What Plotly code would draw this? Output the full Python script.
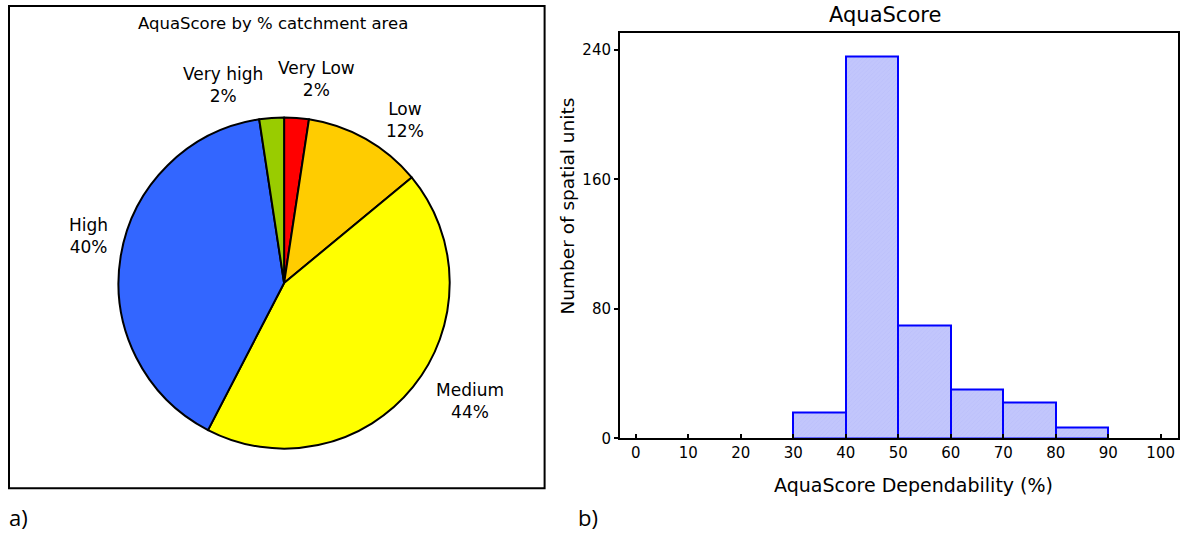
import math
import plotly.graph_objects as go

# ---------------- data ----------------
pie_labels = ["Very Low", "Low", "Medium", "High", "Very high"]
pie_values = [2.4, 11.6, 43.6, 40.0, 2.4]   # % catchment area
pie_colors = ["#FF0000", "#FFCC00", "#FFFF00", "#3366FF", "#99CC00"]

bin_left = [30, 40, 50, 60, 70, 80]
bin_width = 10
bin_counts = [16, 236, 70, 30, 22, 7]

x_tick_vals = [0, 10, 20, 30, 40, 50, 60, 70, 80, 90, 100]
y_tick_vals = [0, 80, 160, 240]

# ---------------- layout helpers ----------------
W, H = 1180, 541
FONT = "DejaVu Sans"


def px(x):
    return x / W


def py(y):
    return (H - y) / H


fig = go.Figure()

# ---- pie (panel a) ----
cx, cy, R = 284.1, 287.8, 168.4
fig.add_trace(go.Pie(
    labels=pie_labels, values=pie_values, sort=False, direction="clockwise",
    rotation=0, textinfo="none", hoverinfo="label+percent",
    marker=dict(colors=pie_colors, line=dict(color="black", width=2)),
    domain=dict(x=[px(cx - R), px(cx + R)], y=[py(cy + R), py(cy - R)]),
    showlegend=False,
))

# label placement: radial position at mid angle + per-label nudges (pixels)
label_nudge = [(17, 2), (17, 17), (22, -12), (12, -14), (-45, 9)]
total = sum(pie_values)
cum = 0.0
annotations = []
for lab, v, (dx, dy) in zip(pie_labels, pie_values, label_nudge):
    mid = (cum + v / 2) / total * 2 * math.pi
    cum += v
    r = 1.25 * R
    lx = cx + r * math.sin(mid) + dx
    ly = cy - r * math.cos(mid) + dy
    annotations.append(dict(
        x=px(lx), y=py(ly), xref="paper", yref="paper",
        text=f"{lab}<br>{v / total * 100:.0f}%", showarrow=False,
        font=dict(family=FONT, size=17, color="black"),
        xanchor="center", yanchor="middle", align="center",
    ))

annotations.append(dict(
    x=px(272.5), y=py(24), xref="paper", yref="paper",
    text="AquaScore by % catchment area", showarrow=False,
    font=dict(family=FONT, size=16.5, color="black"),
    xanchor="center", yanchor="middle"))

# ---- histogram (panel b) ----
bin_centers = [b + bin_width / 2 for b in bin_left]
fig.add_trace(go.Bar(
    x=bin_centers, y=bin_counts, width=bin_width,
    marker=dict(color="rgb(194,198,252)",
                line=dict(color="rgb(0,0,255)", width=2),
                pattern=dict(shape="/", size=3, solidity=0.15,
                             fgcolor="rgb(170,176,245)")),
    xaxis="x", yaxis="y", showlegend=False,
))

annotations += [
    dict(x=px(884.5), y=py(15), xref="paper", yref="paper", text="AquaScore",
         showarrow=False, font=dict(family=FONT, size=21, color="black"),
         xanchor="center", yanchor="middle"),
    dict(x=px(913), y=py(493), xref="paper", yref="paper",
         text="AquaScore Dependability (%)", showarrow=False,
         font=dict(family=FONT, size=19, color="black"),
         xanchor="center", yanchor="middle"),
    dict(x=px(568), y=py(210), xref="paper", yref="paper",
         text="Number of spatial units", textangle=-90, showarrow=False,
         font=dict(family=FONT, size=18.5, color="black"),
         xanchor="center", yanchor="middle"),
    dict(x=px(18.5), y=py(526), xref="paper", yref="paper", text="a)",
         showarrow=False, font=dict(family="Open Sans", size=22, color="black"),
         xanchor="center", yanchor="middle"),
    dict(x=px(588), y=py(526), xref="paper", yref="paper", text="b)",
         showarrow=False, font=dict(family="Open Sans", size=22, color="black"),
         xanchor="center", yanchor="middle"),
]

shapes = [dict(type="rect", xref="paper", yref="paper",
               x0=px(9), x1=px(544.6), y0=py(496.5), y1=py(6),
               line=dict(color="black", width=2), fillcolor="rgba(0,0,0,0)",
               layer="below")]

fig.update_layout(
    width=W, height=H, margin=dict(l=0, r=0, t=0, b=0),
    paper_bgcolor="white", plot_bgcolor="white",
    font=dict(family=FONT, color="black"),
    annotations=annotations, shapes=shapes, bargap=0,
    xaxis=dict(domain=[px(620), px(1178)], range=[-2.99, 103.3],
               tickvals=x_tick_vals, ticks="inside", ticklen=4, tickwidth=1.5,
               tickcolor="black", showline=True, linecolor="black",
               linewidth=2, mirror=True, showgrid=False, zeroline=False,
               tickfont=dict(family=FONT, size=15, color="black"),
               anchor="y"),
    yaxis=dict(domain=[py(445.7), py(34)], range=[0, 250.3],
               tickvals=y_tick_vals, ticks="outside", ticklen=4, tickwidth=1.5,
               tickcolor="black", showline=True, linecolor="black",
               linewidth=2, mirror=True, showgrid=False, zeroline=False,
               tickfont=dict(family=FONT, size=15, color="black"),
               anchor="x"),
)

post = (
    "var gd=document.getElementById('{plot_id}');"
    "var st=document.createElement('style');"
    "st.textContent='html,body{margin:0;padding:0;overflow:hidden;height:541px;}';"
    "document.head.appendChild(st);"
    "if(gd&&gd.parentElement){gd.parentElement.style.height='541px';"
    "gd.parentElement.style.overflow='hidden';}"
)

fig.write_html("out.html", config={"displayModeBar": False}, post_script=post)
